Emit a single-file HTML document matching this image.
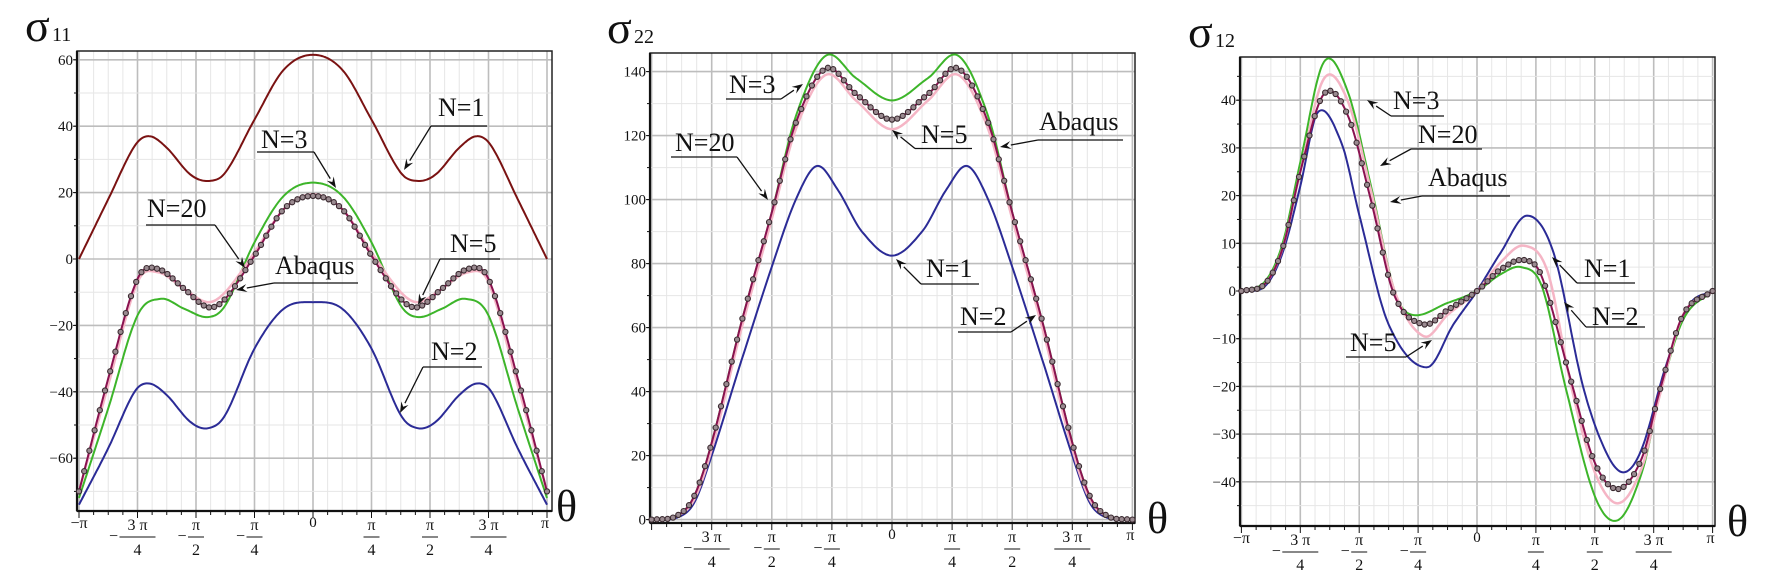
<!DOCTYPE html>
<html><head><meta charset="utf-8">
<style>
html,body{margin:0;padding:0;background:#fff;}
svg{display:block;}
text{font-family:"Liberation Serif",serif;fill:#111;}
</style></head>
<body>
<svg id="s" width="1772" height="582" viewBox="0 0 1772 582" xmlns="http://www.w3.org/2000/svg"></svg>
<script>
const S=document.getElementById('s');let out='';
function cr(pts){
  let d='M'+pts[0][0].toFixed(1)+','+pts[0][1].toFixed(1);
  for(let i=0;i<pts.length-1;i++){
    const p0=pts[Math.max(0,i-1)],p1=pts[i],p2=pts[i+1],p3=pts[Math.min(pts.length-1,i+2)];
    const c1=[p1[0]+(p2[0]-p0[0])/6,p1[1]+(p2[1]-p0[1])/6];
    const c2=[p2[0]-(p3[0]-p1[0])/6,p2[1]-(p3[1]-p1[1])/6];
    d+='C'+c1[0].toFixed(1)+','+c1[1].toFixed(1)+' '+c2[0].toFixed(1)+','+c2[1].toFixed(1)+' '+p2[0].toFixed(1)+','+p2[1].toFixed(1);
  }
  return d;
}
function interp(pts,t){
  for(let i=0;i<pts.length-1;i++){
    if(t<=pts[i+1][0]){
      const p0=pts[Math.max(0,i-1)],p1=pts[i],p2=pts[i+1],p3=pts[Math.min(pts.length-1,i+2)];
      const u=(t-p1[0])/(p2[0]-p1[0]);
      const m1=(p2[1]-p0[1])/ (p2[0]-p0[0]||1)*(p2[0]-p1[0]);
      const m2=(p3[1]-p1[1])/ (p3[0]-p1[0]||1)*(p2[0]-p1[0]);
      const h00=2*u*u*u-3*u*u+1,h10=u*u*u-2*u*u+u,h01=-2*u*u*u+3*u*u,h11=u*u*u-u*u;
      return h00*p1[1]+h10*m1+h01*p2[1]+h11*m2;
    }
  }
  return pts[pts.length-1][1];
}
function sym(h){const r=h.slice();for(let i=h.length-2;i>=0;i--)r.push([-h[i][0],h[i][1]]);return r;}
function dense(pts){const r=[];for(let t=-4;t<=4.0001;t+=0.05)r.push([t,interp(pts,t)]);return r;}

function panel(c){
  const X=t=>c.xm+t*c.q, Y=v=>c.y0-v*c.k;
  const v0=Math.ceil(c.vmin/c.minor)*c.minor, m0=Math.ceil(c.vmin/c.major)*c.major;
  for(let i=-16;i<=16;i++){const x=X(i/4);if(x>c.L&&x<c.R)out+=`<line x1="${x}" y1="${c.T}" x2="${x}" y2="${c.B}" stroke="${i%4?'#e6e6e6':'#bdbdbd'}" stroke-width="${i%4?1:1.6}"/>`;}
  for(let v=v0;v<=c.vmax;v+=c.minor){const y=Y(v);if(y>c.T&&y<c.B){const maj=Math.abs(v%c.major)<1e-6;out+=`<line x1="${c.L}" y1="${y}" x2="${c.R}" y2="${y}" stroke="${maj?'#bdbdbd':'#e6e6e6'}" stroke-width="${maj?1.6:1}"/>`;}}
  out+=`<rect x="${c.L}" y="${c.T}" width="${c.R-c.L}" height="${c.B-c.T}" fill="none" stroke="#222" stroke-width="1.5"/>`;
  out+=`<line x1="${c.L}" y1="${c.T}" x2="${c.L}" y2="${c.B}" stroke="#111" stroke-width="2.2"/><line x1="${c.L}" y1="${c.B}" x2="${c.R}" y2="${c.B}" stroke="#111" stroke-width="2.2"/>`;
  for(let v=m0;v<=c.vmax;v+=c.major){const y=Y(v);if(y<c.T-2||y>c.B+2)continue;
    const s=v<0?'\u2212'+(-v):''+v;
    out+=`<text x="${c.L-4}" y="${y+5}" font-size="15" text-anchor="end">${s}</text><line x1="${c.L-4}" y1="${y}" x2="${c.L}" y2="${y}" stroke="#111"/>`;}
  for(let v=v0;v<=c.vmax;v+=c.minor){const y=Y(v);if(y>c.T&&y<c.B)out+=`<line x1="${c.L-3}" y1="${y}" x2="${c.L}" y2="${y}" stroke="#111"/>`;}
  for(let i=-16;i<=16;i++){const x=X(i/4);out+=`<line x1="${x}" y1="${c.B}" x2="${x}" y2="${c.B+(i%4?4:7)}" stroke="#111"/>`;}
  const by=c.B+17;
  if(c.mpi)out+=`<text x="${X(-4)}" y="${by}" font-size="16" text-anchor="middle">\u2212\u03c0</text>`;
  out+=`<text x="${X(4)-2}" y="${by}" font-size="16" text-anchor="middle">\u03c0</text>`;
  out+=`<text x="${X(0)}" y="${by-1}" font-size="15" text-anchor="middle">0</text>`;
  const fr=(t,num,den,neg)=>{const x=X(t);let s=`<text x="${x}" y="${by+2}" font-size="16" text-anchor="middle">${num}</text><line x1="${x-num.length*5-3}" y1="${by+9}" x2="${x+num.length*5+3}" y2="${by+9}" stroke="#111"/><text x="${x}" y="${by+27}" font-size="16" text-anchor="middle">${den}</text>`;
    if(neg)s+=`<text x="${x-num.length*5-9}" y="${by+13}" font-size="16" text-anchor="middle">\u2212</text>`;return s;};
  out+=fr(-3,'3 \u03c0','4',1)+fr(-2,'\u03c0','2',1)+fr(-1,'\u03c0','4',1)+fr(1,'\u03c0','4',0)+fr(2,'\u03c0','2',0)+fr(3,'3 \u03c0','4',0);
  out+=`<text x="${c.th}" y="${c.B+10}" font-size="44">\u03b8</text>`;
  out+=`<text x="${c.sx}" y="${c.T-10}" font-size="46">\u03c3</text><text x="${c.sx+27}" y="${c.T-10}" font-size="20">${c.sub}</text>`;
  const toPx=p=>p.map(a=>[X(a[0]),Y(a[1])]);
  out+=`<g clip-path="url(#cl${c.id})">`;
  for(const cv of c.curves){out+=`<path d="${cr(toPx(dense(cv.p)))}" fill="none" stroke="${cv.c}" stroke-width="${cv.w||2}"/>`;}
  const ab=c.marks;
  for(let t=-4;t<=4.001;t+=8/90){const x=X(t),y=Y(interp(ab,t));out+=`<circle cx="${x.toFixed(1)}" cy="${y.toFixed(1)}" r="2.6" fill="#9a8a90" stroke="#3a2a30" stroke-width="1.1"/>`;}
  out+=`</g><clipPath id="cl${c.id}"><rect x="${c.L-4}" y="${c.T}" width="${c.R-c.L+8}" height="${c.B-c.T}"/></clipPath>`;
  for(const l of c.labels){const[t,tx,ty,ux1,ux2,uy,ax,ay,bx,by2]=l;
    out+=`<text x="${tx}" y="${ty}" font-size="26">${t}</text><line x1="${ux1}" y1="${uy}" x2="${ux2}" y2="${uy}" stroke="#111" stroke-width="1.3"/>`;
    const dx=bx-ax,dy=by2-ay,L=Math.hypot(dx,dy),ux=dx/L,uy2=dy/L;
    const hx=bx-ux*11,hy=by2-uy2*11;
    out+=`<line x1="${ax}" y1="${ay}" x2="${hx}" y2="${hy}" stroke="#111" stroke-width="1.3"/><polygon points="${bx},${by2} ${hx-uy2*4},${hy+ux*4} ${bx-ux*7},${by2-uy2*7} ${hx+uy2*4},${hy-ux*4}" fill="#111"/>`;}
}
const DR='#7a1212',BL='#2b2b96',GR='#3db52a',PU='#8a1250',PK='#f5b5c5';
const p1={id:1,L:77,R:552,T:51,B:511,xm:313,q:58.5,y0:259,k:3.32,vmin:-70,vmax:60,major:20,minor:10,mpi:1,th:556,sx:25,sub:'11',
 curves:[
 {c:DR,p:sym([[-4,0],[-3.5,18],[-3.05,34],[-2.8,37],[-2.5,33.5],[-2.1,25.5],[-1.8,23.5],[-1.5,26],[-1,42],[-0.5,57],[0,61.5]])},
 {c:BL,p:sym([[-4,-74],[-3.5,-57],[-3.05,-40],[-2.8,-37.5],[-2.5,-41],[-2.1,-49],[-1.8,-51],[-1.5,-47],[-1,-27],[-0.5,-15],[0,-13]])},
 {c:GR,p:sym([[-4,-72],[-3.5,-45],[-3,-17],[-2.6,-12],[-2.2,-15],[-1.8,-17.5],[-1.5,-14],[-1,5],[-0.5,19],[0,23]])},
 {c:PK,p:sym([[-4,-70],[-3.5,-38],[-3,-7],[-2.65,-4],[-2.2,-9],[-1.8,-13],[-1.5,-10],[-1,2],[-0.5,15],[0,19.5]]),w:2.5},
 {c:PU,p:sym([[-4,-70],[-3.5,-36],[-3,-6],[-2.65,-3],[-2.2,-9],[-1.8,-14.5],[-1.5,-12],[-1,1],[-0.5,15],[0,19]])}],
 labels:[['N=1',438,116,431,487,126,431,126,404,170],['N=3',261,148,257,314,152,314,152,336,188],['N=20',147,217,146,215,225,215,225,245,268],
 ['Abaqus',275,274,274,358,283,274,283,236,290],['N=5',450,252,440,500,259,440,259,418,305],['N=2',431,360,423,482,367,423,367,400,413]]};
p1.marks=p1.curves[4].p;panel(p1);
const p2={id:2,L:650,R:1135,T:53,B:523,xm:892,q:60.1,y0:519.6,k:3.2,vmin:0,vmax:140,major:20,minor:10,mpi:0,th:1147,sx:607,sub:'22',
 curves:[
 {c:BL,p:sym([[-4,0],[-3.6,0.5],[-3.3,5],[-3,20],[-2.5,50],[-2,79],[-1.6,100],[-1.25,110.5],[-0.9,103],[-0.5,90],[0,82.5]])},
 {c:GR,p:sym([[-4,0],[-3.6,1],[-3.3,7],[-3,24],[-2.5,62],[-2,96],[-1.6,126],[-1.1,145],[-0.6,138],[0,131]])},
 {c:PK,p:sym([[-4,0],[-3.6,1],[-3.3,6],[-3,22],[-2.5,60],[-2,94],[-1.6,122],[-1.1,139],[-0.6,131],[0,122]]),w:2.5},
 {c:PU,p:sym([[-4,0],[-3.6,1],[-3.3,7],[-3,24],[-2.5,62],[-2,96],[-1.6,124],[-1.1,141],[-0.6,133],[0,125]])}],
 labels:[['N=3',729,93,726,781,99,781,99,803,84],['N=20',675,151,671,737,157,737,157,768,200],['Abaqus',1039,130,1038,1123,140,1038,140,1000,147],
 ['N=5',921,143,915,972,148.5,915,148.5,892,130],['N=1',926,277,921,979,284,921,284,896,259],['N=2',960,325,958,1011,332,1011,332,1036,315]]};
p2.marks=p2.curves[3].p;panel(p2);
const p3={id:3,L:1240,R:1715,T:57,B:526,xm:1477,q:58.9,y0:291,k:4.77,vmin:-45,vmax:45,major:10,minor:5,mpi:1,th:1727,sx:1188,sub:'12',
 curves:[
 {c:BL,p:[[-4,0],[-3.6,1],[-3.3,8],[-3,22],[-2.7,37.5],[-2.3,31],[-2,16],[-1.5,-7],[-0.85,-16],[-0.4,-7],[0,0],[0.4,8],[0.85,15.8],[1.3,8],[1.8,-20],[2.2,-34],[2.5,-38],[2.8,-33],[3.2,-16],[3.6,-3],[4,0]]},
 {c:GR,p:[[-4,0],[-3.6,2],[-3.3,10],[-3,27],[-2.6,48],[-2.2,42],[-1.8,22],[-1.4,0],[-1.1,-5],[-0.5,-2.5],[0,0],[0.4,3.5],[0.75,5],[1.1,1],[1.5,-20],[2,-43],[2.4,-48],[2.8,-38],[3.1,-22],[3.5,-6],[4,0]]},
 {c:PK,p:[[-4,0],[-3.6,1.5],[-3.3,9],[-3,25],[-2.6,44.5],[-2.2,40],[-1.8,21],[-1.4,0],[-0.9,-9.5],[-0.5,-5],[0,0],[0.4,6],[0.8,9.5],[1.2,4],[1.6,-20],[2,-38],[2.4,-44.5],[2.8,-37],[3.1,-22],[3.5,-5],[4,0]],w:2.5},
 {c:PU,p:[[-4,0],[-3.6,1.5],[-3.3,9],[-3,25],[-2.6,41.3],[-2.2,37],[-1.8,19],[-1.4,-1],[-0.9,-7],[-0.5,-4],[0,0],[0.4,4.5],[0.8,6.5],[1.1,3],[1.6,-19],[2,-36],[2.4,-41.5],[2.8,-35],[3.1,-21],[3.5,-5],[4,0]]}],
 labels:[['N=3',1393,109,1391,1444,116,1391,116,1367,100],['N=20',1418,143,1411,1482,149,1411,149,1380,166],['Abaqus',1428,186,1422,1510,196,1422,196,1390,202],
 ['N=1',1584,277,1577,1635,283,1577,283,1552,257],['N=2',1592,325,1586,1645,327,1586,327,1564,302],['N=5',1350,351,1346,1406,357,1406,357,1432,340]]};
p3.marks=p3.curves[3].p;panel(p3);
S.innerHTML=out;
</script>
</body></html>
